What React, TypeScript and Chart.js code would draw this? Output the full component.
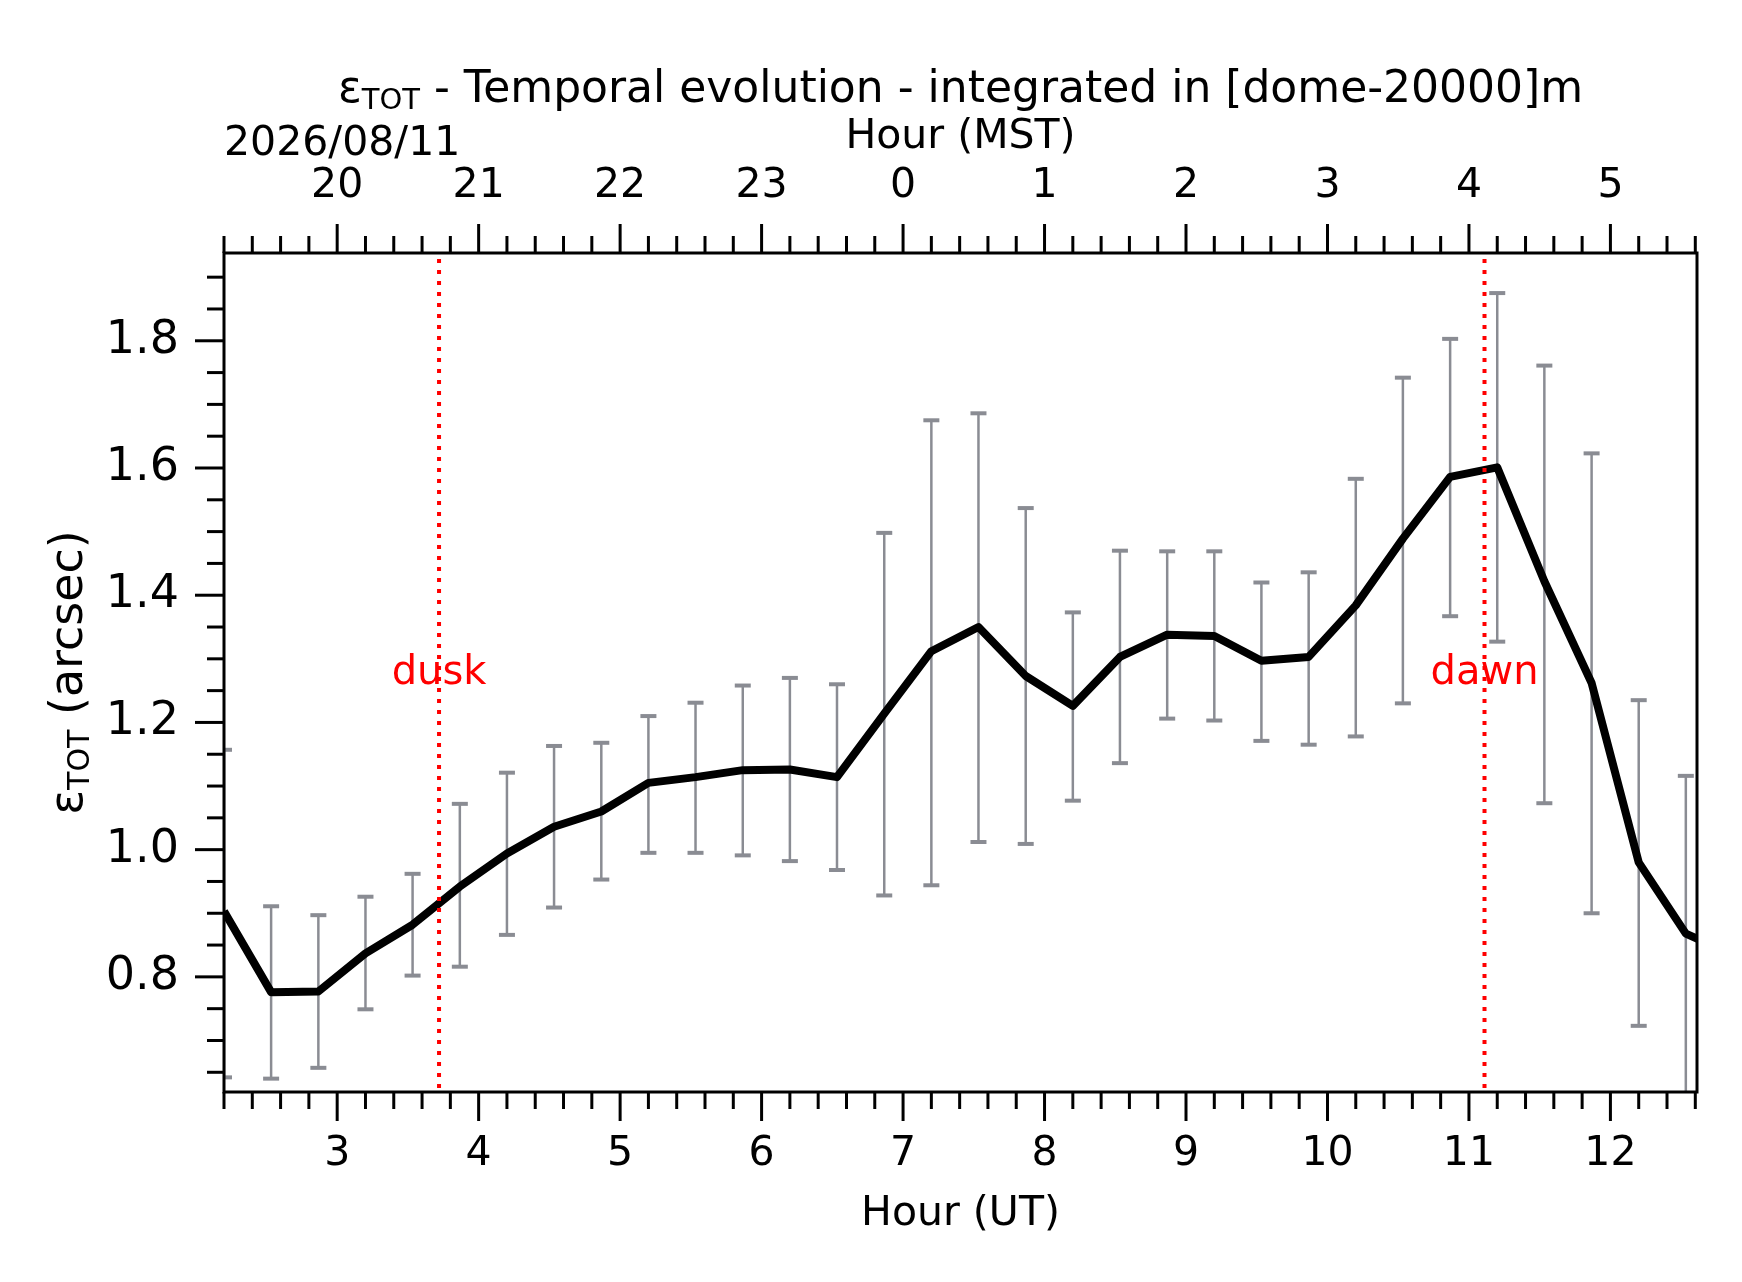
import { useEffect, useRef } from 'react'
import { Chart, registerables } from 'chart.js'

Chart.register(...registerables)

// hour (UT) of each 20-minute bin
const HOURS_UT = [
  2.2, 2.533, 2.867, 3.2, 3.533, 3.867, 4.2, 4.533, 4.867, 5.2, 5.533,
  5.867, 6.2, 6.533, 6.867, 7.2, 7.533, 7.867, 8.2, 8.533, 8.867, 9.2,
  9.533, 9.867, 10.2, 10.533, 10.867, 11.2, 11.533, 11.867, 12.2, 12.533, 12.867,
]
// integrated seeing (arcsec)
const SEEING = [
  0.903, 0.776, 0.777, 0.837, 0.882, 0.942, 0.994, 1.036, 1.06, 1.105, 1.114,
  1.125, 1.126, 1.114, 1.214, 1.312, 1.35, 1.273, 1.226, 1.303, 1.338, 1.336,
  1.297, 1.303, 1.384, 1.489, 1.586, 1.601, 1.422, 1.262, 0.98, 0.868, 0.835,
]
const SEEING_HI = [
  1.157, 0.911, 0.897, 0.926, 0.962, 1.072, 1.121, 1.163, 1.168, 1.21, 1.231,
  1.258, 1.27, 1.26, 1.498, 1.675, 1.686, 1.537, 1.373, 1.47, 1.469, 1.469,
  1.42, 1.436, 1.583, 1.742, 1.803, 1.875, 1.761, 1.623, 1.235, 1.116, 1.08,
]
const SEEING_LO = [
  0.642, 0.64, 0.657, 0.749, 0.802, 0.816, 0.866, 0.909, 0.953, 0.995, 0.995,
  0.991, 0.982, 0.968, 0.928, 0.944, 1.012, 1.009, 1.077, 1.136, 1.206, 1.203,
  1.171, 1.165, 1.178, 1.23, 1.367, 1.327, 1.073, 0.9, 0.723, 0.6, 0.59,
]

const TWILIGHT = [
  { label: 'dusk', hour: 3.72 },
  { label: 'dawn', hour: 11.11 },
]
const TWILIGHT_LABEL_Y = 1.26
const MST_OFFSET = -7
const DATE_LABEL = '2026/08/11'

const X_MIN = 2.2
const X_MAX = 12.612
const Y_MIN = 0.619
const Y_MAX = 1.938

const FONT = 'DejaVu Sans'
const GRAY = '#8a8c93'
const MAJOR = 29
const MINOR = 17

function seg(ctx: CanvasRenderingContext2D, x1: number, y1: number, x2: number, y2: number) {
  ctx.beginPath()
  ctx.moveTo(x1, y1)
  ctx.lineTo(x2, y2)
  ctx.stroke()
}

// text with a "TOT" subscript after the epsilon
function epsText(ctx: CanvasRenderingContext2D, rest: string, cx: number, base: number, size: number) {
  const main = `${size}px "${FONT}"`
  const sub = `${Math.round(size * 0.66)}px "${FONT}"`
  ctx.font = main
  const w1 = ctx.measureText('ε').width
  const w3 = ctx.measureText(rest).width
  ctx.font = sub
  const w2 = ctx.measureText('TOT').width
  let x = cx - (w1 + w2 + w3) / 2
  ctx.textAlign = 'left'
  ctx.textBaseline = 'alphabetic'
  ctx.font = main
  ctx.fillText('ε', x, base)
  x += w1
  ctx.font = sub
  ctx.fillText('TOT', x, base + size * 0.15)
  x += w2
  ctx.font = main
  ctx.fillText(rest, x, base)
}

const decor = {
  id: 'decor',
  beforeDatasetsDraw(chart: Chart) {
    const { ctx, chartArea: a } = chart
    const x = chart.scales.x
    const y = chart.scales.y
    ctx.save()
    ctx.beginPath()
    ctx.rect(a.left, a.top, a.right - a.left, a.bottom - a.top)
    ctx.clip()
    ctx.strokeStyle = GRAY
    ctx.lineCap = 'butt'
    HOURS_UT.forEach((h, i) => {
      const px = x.getPixelForValue(h)
      const top = y.getPixelForValue(SEEING_HI[i])
      const bot = y.getPixelForValue(SEEING_LO[i])
      ctx.lineWidth = 2.5
      seg(ctx, px, top, px, bot)
      ctx.lineWidth = 4
      seg(ctx, px - 8, top, px + 8, top)
      seg(ctx, px - 8, bot, px + 8, bot)
    })
    ctx.restore()
  },
  afterDatasetsDraw(chart: Chart) {
    const { ctx, chartArea: a } = chart
    const x = chart.scales.x
    const y = chart.scales.y
    ctx.save()
    ctx.beginPath()
    ctx.rect(a.left, a.top, a.right - a.left, a.bottom - a.top)
    ctx.clip()
    const ly = y.getPixelForValue(TWILIGHT_LABEL_Y)
    TWILIGHT.forEach(t => {
      const px = x.getPixelForValue(t.hour)
      ctx.fillStyle = '#ff0000'
      ctx.font = `40px "${FONT}"`
      ctx.textAlign = 'center'
      ctx.textBaseline = 'alphabetic'
      ctx.fillText(t.label, px, ly)
      ctx.strokeStyle = '#ff0000'
      ctx.lineWidth = 4
      ctx.setLineDash([4, 7])
      seg(ctx, px, a.top + 6, px, a.bottom)
      ctx.setLineDash([])
    })
    ctx.restore()

    // tick marks, outward, on bottom, top and left
    ctx.save()
    ctx.strokeStyle = '#000'
    ctx.lineWidth = 3
    for (let k = Math.ceil(X_MIN * 5 - 1e-6); k <= Math.floor(X_MAX * 5 + 1e-6); k++) {
      const px = x.getPixelForValue(k / 5)
      const len = k % 5 === 0 ? MAJOR : MINOR
      seg(ctx, px, a.bottom, px, a.bottom + len)
      seg(ctx, px, a.top, px, a.top - len)
    }
    for (let k = Math.ceil(Y_MIN * 20 - 1e-6); k <= Math.floor(Y_MAX * 20 + 1e-6); k++) {
      const py = y.getPixelForValue(k / 20)
      const len = k % 4 === 0 ? MAJOR : MINOR
      seg(ctx, a.left, py, a.left - len, py)
    }
    ctx.strokeRect(a.left, a.top, a.right - a.left, a.bottom - a.top)
    ctx.restore()
  },
  afterDraw(chart: Chart) {
    const { ctx, chartArea: a } = chart
    ctx.save()
    ctx.fillStyle = '#000'
    epsText(ctx, ' - Temporal evolution - integrated in [dome-20000]m', (a.left + a.right) / 2, 102, 44)
    ctx.font = `41px "${FONT}"`
    ctx.textAlign = 'left'
    ctx.textBaseline = 'alphabetic'
    ctx.fillText(DATE_LABEL, a.left, 155)
    ctx.translate(82, (a.top + a.bottom) / 2)
    ctx.rotate(-Math.PI / 2)
    epsText(ctx, ' (arcsec)', 0, 0, 46)
    ctx.restore()
  },
}

export default function App() {
  const canvasRef = useRef<HTMLCanvasElement>(null)
  const chartRef = useRef<Chart | null>(null)

  useEffect(() => {
    document.body.style.margin = '0'
    if (!canvasRef.current) return
    if (chartRef.current) chartRef.current.destroy()

    const xFont = { family: FONT, size: 41 }
    const yFont = { family: FONT, size: 46 }

    chartRef.current = new Chart(canvasRef.current, {
      type: 'line',
      data: {
        datasets: [{
          data: HOURS_UT.map((h, i) => ({ x: h, y: SEEING[i] })),
          borderColor: '#000',
          borderWidth: 8,
          borderJoinStyle: 'round',
          pointRadius: 0,
          tension: 0,
          fill: false,
          clip: 0,
        }],
      },
      options: {
        responsive: false,
        animation: false,
        events: [],
        layout: { padding: { left: 0, right: 45, top: 0, bottom: 0 } },
        scales: {
          x: {
            type: 'linear',
            position: 'bottom',
            min: X_MIN, max: X_MAX,
            ticks: { stepSize: 1, includeBounds: false, color: '#000', font: xFont, padding: 9, maxRotation: 0 },
            grid: { display: false, tickLength: MAJOR },
            border: { display: false },
            title: { display: true, text: 'Hour (UT)', color: '#000', font: xFont, padding: { top: 0, bottom: 43 } },
            afterFit: (s: any) => { s.height = 190 },
          },
          x2: {
            type: 'linear',
            position: 'top',
            min: X_MIN, max: X_MAX,
            ticks: {
              stepSize: 1, includeBounds: false, color: '#000', font: xFont, padding: 13, maxRotation: 0,
              callback: (v: any) => String((Math.round(Number(v)) + MST_OFFSET + 24) % 24),
            },
            grid: { display: false, tickLength: MAJOR },
            border: { display: false },
            title: { display: true, text: 'Hour (MST)', color: '#000', font: xFont, padding: { top: 113, bottom: 0 } },
            afterFit: (s: any) => { s.height = 253 },
          },
          y: {
            type: 'linear',
            min: Y_MIN, max: Y_MAX,
            ticks: {
              stepSize: 0.2, includeBounds: false, color: '#000', font: yFont, padding: 16,
              callback: (v: any) => Number(v).toFixed(1),
            },
            grid: { display: false, tickLength: MAJOR },
            border: { display: false },
            afterFit: (s: any) => { s.width = 224 },
          },
        },
        plugins: { legend: { display: false }, tooltip: { enabled: false }, title: { display: false } },
      },
      plugins: [decor],
    } as any)

    return () => { chartRef.current?.destroy() }
  }, [])

  return (
    <div style={{ width: '1742px', height: '1282px', position: 'relative', background: '#fff' }}>
      <canvas ref={canvasRef} width={1742} height={1282} />
    </div>
  )
}
